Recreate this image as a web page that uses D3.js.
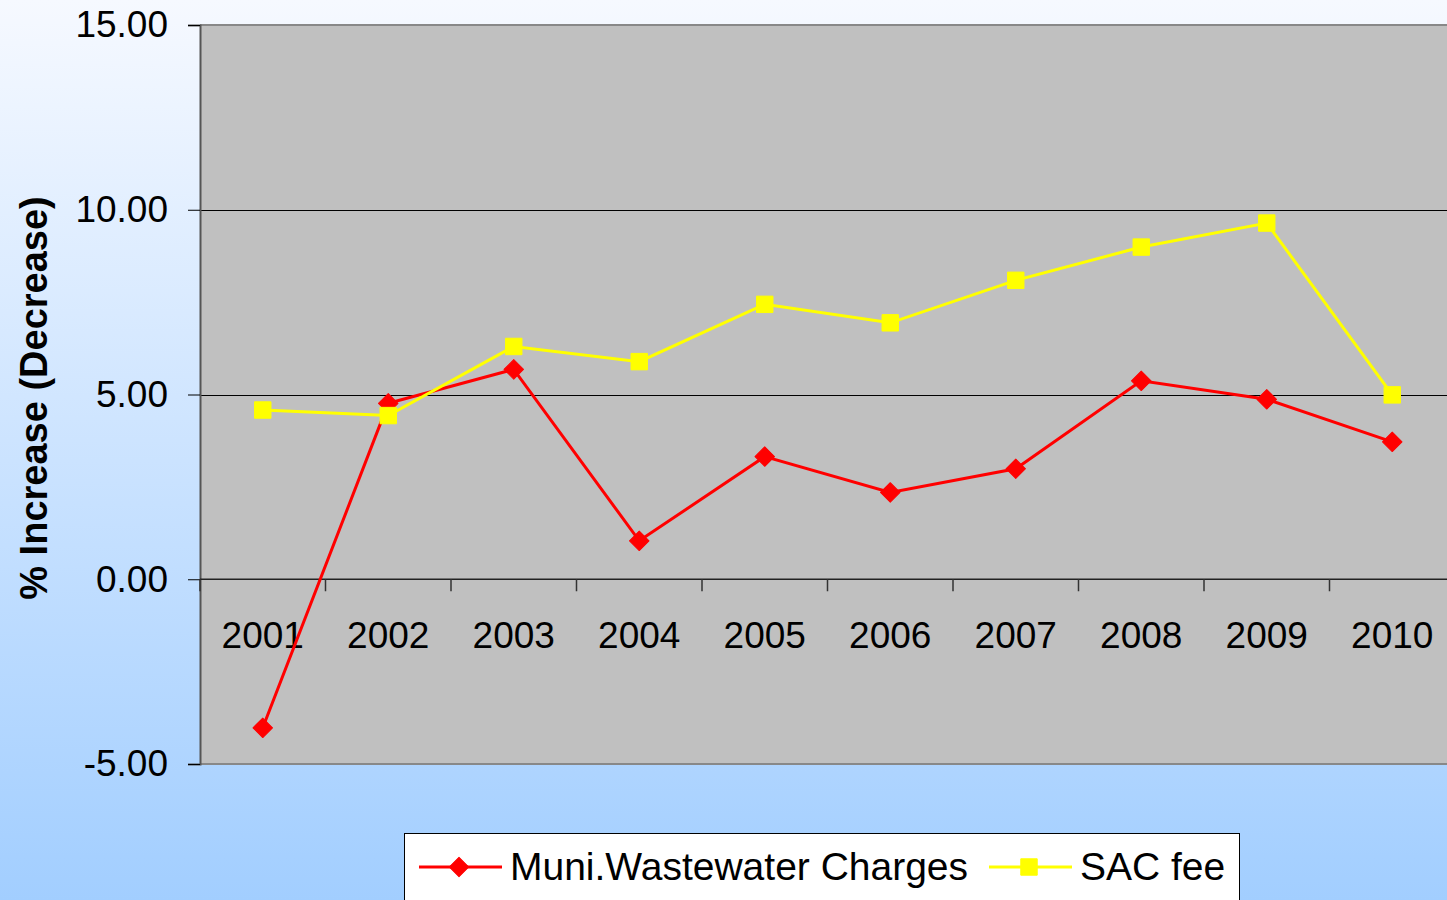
<!DOCTYPE html>
<html>
<head>
<meta charset="utf-8">
<script src="https://cdn.jsdelivr.net/npm/d3@7"></script>
<style>
  body { margin: 0; overflow: hidden; }
  svg { display: block; font-family: "Liberation Sans", Arial, sans-serif; }
</style>
</head>
<body>
<svg></svg>
<script>
var years = ['2001','2002','2003','2004','2005','2006','2007','2008','2009','2010'];
var muniCharges = [-4.02, 4.76, 5.68, 1.04, 3.32, 2.35, 2.99, 5.37, 4.87, 3.72];
var sacFee = [4.58, 4.43, 6.30, 5.89, 7.44, 6.94, 8.09, 8.99, 9.64, 4.99];
var yTicks = [-5, 0, 5, 10, 15];
var seriesNames = ['Muni.Wastewater Charges', 'SAC fee'];

var width = 1447, height = 900;
var svg = d3.select('svg').attr('width', width).attr('height', height);

// background gradient
var defs = svg.append('defs');
var grad = defs.append('linearGradient').attr('id', 'bg')
	.attr('x1', 0).attr('y1', 0).attr('x2', 0).attr('y2', 1);
grad.append('stop').attr('offset', 0).attr('stop-color', '#F6F9FF');
grad.append('stop').attr('offset', 1).attr('stop-color', '#A2CEFF');
svg.append('rect').attr('width', width).attr('height', height).attr('fill', 'url(#bg)');

var plotLeft = 200, plotRight = 1455, plotTop = 25, plotBottom = 764;

var x = d3.scaleBand().domain(years).range([plotLeft, plotRight]).padding(0);
var y = d3.scaleLinear().domain([-5, 15]).range([plotBottom, plotTop]);
var cx = function(d){ return x(d) + x.bandwidth() / 2; };

// plot area
svg.append('rect')
	.attr('x', plotLeft).attr('y', plotTop)
	.attr('width', plotRight - plotLeft).attr('height', plotBottom - plotTop)
	.attr('fill', '#C0C0C0');

// gridlines
svg.append('g').selectAll('line')
	.data([5, 10])
	.enter().append('line')
		.attr('x1', plotLeft).attr('x2', plotRight)
		.attr('y1', function(d){ return Math.round(y(d)) + 0.5; })
		.attr('y2', function(d){ return Math.round(y(d)) + 0.5; })
		.attr('stroke', '#000').attr('stroke-width', 1.2);

// borders
svg.append('line').attr('x1', plotLeft).attr('x2', plotRight).attr('y1', plotTop).attr('y2', plotTop)
	.attr('stroke', '#888').attr('stroke-width', 2);
svg.append('line').attr('x1', plotLeft).attr('x2', plotRight).attr('y1', plotBottom).attr('y2', plotBottom)
	.attr('stroke', '#888').attr('stroke-width', 2);

// y axis
var yAxis = svg.append('g')
	.attr('transform', 'translate(' + plotLeft + ',0)')
	.call(d3.axisLeft(y).tickValues(yTicks).tickSize(12).tickPadding(20)
		.tickFormat(function(d){ return d.toFixed(2); }));
yAxis.select('.domain').attr('stroke', '#555').attr('stroke-width', 2);
yAxis.selectAll('.tick line').attr('stroke', '#000');
yAxis.selectAll('.tick text')
	.attr('font-size', 37).attr('fill', '#000')
	.attr('font-family', '"Liberation Sans", Arial, sans-serif');

// zero line and category ticks
svg.append('line').attr('x1', plotLeft).attr('x2', plotRight)
	.attr('y1', y(0)).attr('y2', y(0))
	.attr('stroke', '#222').attr('stroke-width', 1.5);
svg.append('g').selectAll('line')
	.data(years)
	.enter().append('line')
		.attr('x1', function(d){ return x(d); })
		.attr('x2', function(d){ return x(d); })
		.attr('y1', y(0)).attr('y2', y(0) + 12)
		.attr('stroke', '#333').attr('stroke-width', 1.5);

// x labels
var xAxis = svg.append('g')
	.attr('transform', 'translate(0,' + y(0) + ')')
	.call(d3.axisBottom(x).tickSize(0).tickPadding(42));
xAxis.select('.domain').remove();
xAxis.selectAll('.tick text')
	.attr('font-size', 37).attr('fill', '#000')
	.attr('font-family', '"Liberation Sans", Arial, sans-serif');

// y title
svg.append('text')
	.attr('transform', 'translate(47,398) rotate(-90)')
	.attr('text-anchor', 'middle')
	.attr('font-size', 38).attr('font-weight', 'bold')
	.text('% Increase (Decrease)');

// series
var line = d3.line()
	.x(function(d, i){ return cx(years[i]); })
	.y(function(d){ return y(d); });

// diamonds = squares turned 45 degrees
function drawSeries(values, color, size, angle) {
	svg.append('path')
		.datum(values)
		.attr('d', line)
		.attr('fill', 'none')
		.attr('stroke', color)
		.attr('stroke-width', 3);
	svg.append('g').selectAll('path')
		.data(values)
		.enter().append('path')
			.attr('d', d3.symbol().type(d3.symbolSquare).size(size))
			.attr('transform', function(d, i){
				return 'translate(' + cx(years[i]) + ',' + y(d) + ') rotate(' + angle + ')';
			})
			.attr('fill', color)
			.attr('stroke', color).attr('stroke-width', 1).attr('stroke-linejoin', 'round');
}
drawSeries(muniCharges, '#FF0000', 190, 45);
drawSeries(sacFee, '#FFFF00', 270, 0);

// legend
var lg = svg.append('g');
lg.append('rect')
	.attr('x', 404.5).attr('y', 833.5)
	.attr('width', 835).attr('height', 80)
	.attr('fill', '#fff').attr('stroke', '#000').attr('stroke-width', 1);

var legendItems = [
	{name: seriesNames[0], color: '#FF0000', size: 190, angle: 45, x0: 419, tx: 510},
	{name: seriesNames[1], color: '#FFFF00', size: 270, angle: 0, x0: 989, tx: 1080}
];
legendItems.forEach(function(it){
	lg.append('line')
		.attr('x1', it.x0).attr('x2', it.x0 + 83)
		.attr('y1', 867).attr('y2', 867)
		.attr('stroke', it.color).attr('stroke-width', 3);
	lg.append('path')
		.attr('d', d3.symbol().type(d3.symbolSquare).size(it.size))
		.attr('transform', 'translate(' + (it.x0 + 40) + ',867) rotate(' + it.angle + ')')
		.attr('fill', it.color)
		.attr('stroke', it.color).attr('stroke-width', 1).attr('stroke-linejoin', 'round');
	lg.append('text')
		.attr('x', it.tx).attr('y', 880)
		.attr('font-size', 39).attr('fill', '#000')
		.text(it.name);
});
</script>
</body>
</html>
